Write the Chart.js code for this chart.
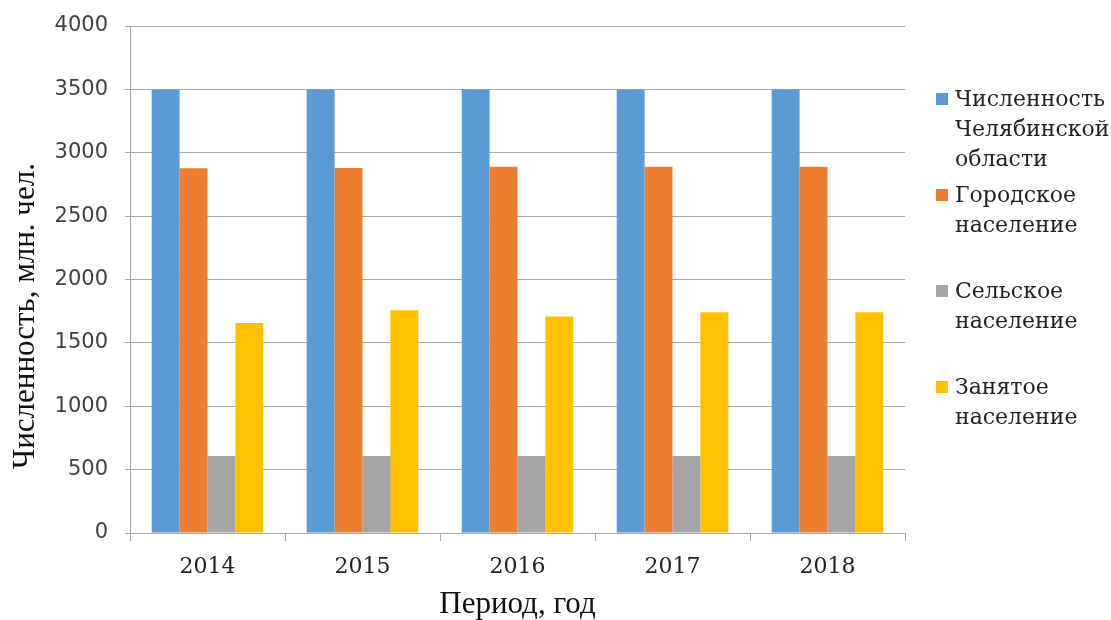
<!DOCTYPE html>
<html><head><meta charset="utf-8">
<script src="https://cdn.jsdelivr.net/npm/chart.js@4/dist/chart.umd.min.js"></script>
<style>
html,body{margin:0;padding:0;background:#fff;}
#wrap{position:relative;width:1111px;height:620px;}
#c{position:absolute;left:0;top:0;}
#legend{position:absolute;left:936px;top:84px;font-family:"DejaVu Serif",serif;font-size:22px;color:#222;}
.item{position:relative;height:96px;}
.sw{position:absolute;left:0;top:9px;width:12px;height:12px;}
.tx{position:absolute;left:19px;top:0;line-height:30px;white-space:nowrap;}
</style></head>
<body><div id="wrap"><canvas id="c" width="1111" height="620"></canvas><div id="legend"></div></div>
<script>
const categories = ["2014","2015","2016","2017","2018"];
const seriesNames = [["Численность","Челябинской","области"],["Городское","население"],["Сельское","население"],["Занятое","население"]];
const totalPop = [3500,3500,3500,3500,3500];
const urbanPop = [2878,2880,2890,2890,2890];
const ruralPop = [607,607,607,607,607];
const employedPop = [1657,1757,1708,1741,1741];
const colors = ["#5b9bd5","#ed7d31","#a5a5a5","#ffc000"];
const yTicks = [0,500,1000,1500,2000,2500,3000,3500,4000];
const xTitle = "Период, год";
const yTitle = "Численность, млн. чел.";

const seriesData = [totalPop, urbanPop, ruralPop, employedPop];
const datasets = seriesData.map((d,i)=>({label:seriesNames[i].join(" "),data:d,backgroundColor:colors[i],categoryPercentage:0.72,barPercentage:1.0}));

const lg = document.getElementById('legend');
seriesNames.forEach((n,i)=>{
  const it=document.createElement('div');it.className='item';
  const sw=document.createElement('div');sw.className='sw';sw.style.background=colors[i];
  const tx=document.createElement('div');tx.className='tx';tx.innerHTML=n.join('<br>');
  it.appendChild(sw);it.appendChild(tx);lg.appendChild(it);
});

const yTitlePlugin = {
  id:'yTitle',
  afterDraw(chart){
    const ctx=chart.ctx;ctx.save();
    ctx.translate(26,316);ctx.rotate(-Math.PI/2);
    ctx.font='31px "Liberation Serif"';ctx.fillStyle='#111';
    ctx.textAlign='center';ctx.textBaseline='middle';
    ctx.fillText(yTitle,0,0);ctx.restore();
  }
};

const gridCol = "#a6a6a6";
new Chart(document.getElementById('c'),{
  type:'bar',
  data:{labels:categories,datasets:datasets},
  plugins:[yTitlePlugin],
  options:{
    responsive:false,animation:false,
    layout:{padding:{left:0,right:206,top:26,bottom:0}},
    plugins:{legend:{display:false},tooltip:{enabled:false}},
    scales:{
      x:{
        grid:{offset:true,drawOnChartArea:false,drawTicks:true,tickLength:8,color:gridCol},
        border:{color:gridCol},
        ticks:{font:{family:"DejaVu Serif",size:22},color:"#222",padding:13},
        title:{display:true,text:xTitle,font:{family:"Liberation Serif",size:31,lineHeight:1},color:"#111",padding:{top:8,bottom:0}},
        afterFit:(s)=>{s.height=87;s.paddingLeft=0;s.paddingRight=0;}
      },
      y:{
        min:0,max:4000,
        afterBuildTicks:(s)=>{s.ticks=yTicks.map(v=>({value:v}));},
        grid:{color:gridCol,tickLength:5},
        border:{color:gridCol},
        ticks:{font:{family:"DejaVu Sans",size:21},color:"#404040",padding:17,callback:(v)=>String(v)},
        title:{display:false},
        afterFit:(s)=>{s.width=130;s.paddingTop=0;s.paddingBottom=0;}
      }
    }
  }
});
</script></body></html>
